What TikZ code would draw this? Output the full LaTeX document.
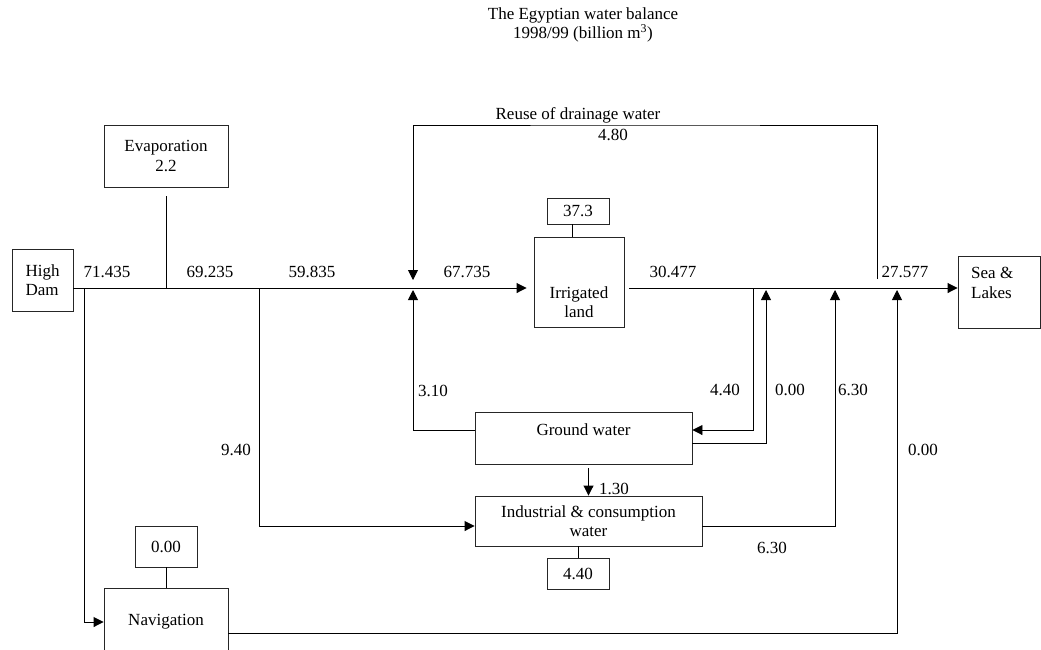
\documentclass[tikz,border=0pt]{standalone}
\usepackage{fontspec}
\setmainfont{Liberation Serif}
\usetikzlibrary{arrows.meta, calc}
\newcommand{\wbfont}{\fontsize{17}{19.5}\selectfont}
\tikzset{
    flowbox/.style={rectangle, draw=black!85, line width=0.9pt, inner sep=0pt, align=center, font=\wbfont},
    flowtxt/.style={inner sep=0pt, align=center, font=\wbfont},
    flowval/.style={inner sep=0pt, font=\wbfont}
}
\begin{document}
\begin{tikzpicture}[x=1pt, y=-1pt,
      arr/.style={-{Triangle[length=10pt, width=10pt]}, line width=0.9pt, black},
      lnk/.style={line width=0.9pt, black}
    ]
    \useasboundingbox (0,0) rectangle (1041,649);
    % title
    \node[flowtxt] (title) at (583,15) {The Egyptian water balance};
    \node[flowtxt] (subtitle) at (583,33) {1998/99 (billion m\textsuperscript{3})};
    % boxes
    \node[flowbox, align=left, minimum width=61pt, minimum height=62pt] (dam) at (42.5,280) {High\\Dam};
    \node[flowbox, minimum width=124pt, minimum height=62pt] (evap) at (166,156) {Evaporation\\2.2};
    \node[flowbox, minimum width=90pt, minimum height=90pt] (irr) at (579,282) {};
    \node[flowtxt] (irrtxt) at (579,302) {Irrigated\\land};
    \node[flowbox, minimum width=62pt, minimum height=26pt] (irrval) at (578,211) {37.3};
    \node[flowbox, minimum width=217pt, minimum height=52pt] (gw) at (583.5,438) {};
    \node[flowtxt] (gwtxt) at (583.5,430) {Ground water};
    \node[flowbox, minimum width=227pt, minimum height=50pt] (ind) at (588.5,521) {Industrial \& consumption\\water};
    \node[flowbox, minimum width=62pt, minimum height=31pt] (indval) at (578,573.5) {4.40};
    \node[flowbox, minimum width=124pt, minimum height=68pt] (nav) at (166,622) {Navigation};
    \node[flowbox, minimum width=62pt, minimum height=41pt] (navval) at (166,546.5) {0.00};
    \node[flowbox, minimum width=82pt, minimum height=72pt] (sea) at (999,292) {};
    \node[flowtxt, align=left, anchor=west] (seatxt) at (971,283) {Sea \&\\Lakes};
    % junctions on the main line
    \coordinate (jnav) at (84,288);
    \coordinate (jevap) at (166,288);
    \coordinate (jind) at (259,288);
    \coordinate (jmix) at (413,288);
    \coordinate (jgwout) at (753,288);
    \coordinate (jgwin) at (766,288);
    \coordinate (jindin) at (835,288);
    \coordinate (jreuse) at (877,288);
    \coordinate (jnavin) at (897,288);
    \coordinate (reusetop) at (645,125);
    % main line
    \draw[arr, shorten >=7pt] (dam.east |- jmix) -- (irr.west |- jmix);
    \draw[arr, shorten <=5pt] (irr.east |- jmix) -- (sea.west |- jmix);
    \draw[lnk, shorten <=9pt] (evap.south) -- (jevap);
    \draw[lnk] ([xshift=-6pt]irrval.south) -- ([xshift=-6pt]irrval.south |- irr.north);
    \draw[lnk] (navval) -- (nav);
    \draw[lnk] (indval.north |- ind.south) -- (indval.north);
    % branches
    \draw[arr] (jnav) |- (nav.west);
    \draw[arr] (jind) |- ([yshift=-5pt]ind.west);
    \draw[arr, shorten >=2pt] ([yshift=8pt]gw.west) -| (jmix);
    \draw[arr, shorten >=8pt] ([yshift=9pt]jreuse) |- (reusetop) -| (jmix);
    \draw[arr] (jgwout) |- ([yshift=8pt]gw.east);
    \draw[arr, shorten >=2pt] ([yshift=-5pt]gw.east) -| (jgwin);
    \draw[arr, shorten >=2pt] ([yshift=-5pt]ind.east) -| (jindin);
    \draw[arr, shorten >=2pt] ([yshift=-11pt]nav.east) -| (jnavin);
    \draw[arr, shorten <=4pt] (ind.north |- gw.south) -- (ind.north);
    % flow values
    \node[flowtxt] (reuselbl) at (578,115) {Reuse of drainage water};
    \node[flowval] (reuseval) at (613,135) {4.80};
    \node[flowval] (vdam) at (107,272) {71.435};
    \node[flowval] (vevap) at (210,272) {69.235};
    \node[flowval] (vind) at (312,272) {59.835};
    \node[flowval] (virr) at (467,272) {67.735};
    \node[flowval] (vout) at (673,272) {30.477};
    \node[flowval] (vsea) at (905,272) {27.577};
    \node[flowval] (vgwup) at (433,391) {3.10};
    \node[flowval] (vgwdown) at (725,390) {4.40};
    \node[flowval] (vgwback) at (790,390) {0.00};
    \node[flowval] (vindback) at (853,390) {6.30};
    \node[flowval] (vnavback) at (923,450) {0.00};
    \node[flowval] (vindout) at (772,548) {6.30};
    \node[flowval] (vindin) at (236,450) {9.40};
    \node[flowval] (vgwind) at (614,489) {1.30};
\end{tikzpicture}
\end{document}
